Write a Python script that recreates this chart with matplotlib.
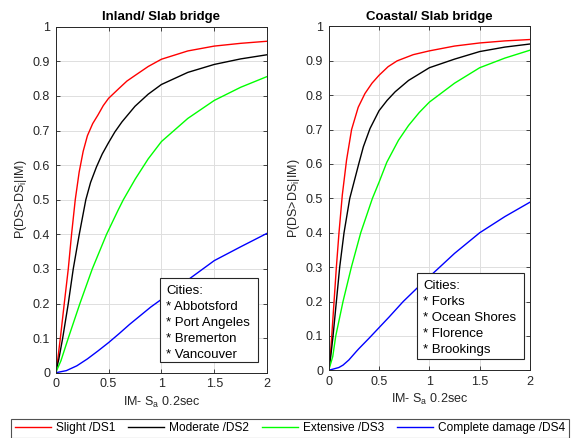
import numpy as np
import matplotlib
matplotlib.use('Agg')
import matplotlib.pyplot as plt
from matplotlib.patches import Rectangle

plt.rcParams['font.family'] = ['Liberation Sans', 'DejaVu Sans']
plt.rcParams['mathtext.fontset'] = 'custom'
plt.rcParams['mathtext.rm'] = 'Liberation Sans'

# ---- data ----
# Inland / Slab bridge
in_ds1_x = [0, 0.02, 0.044, 0.081, 0.119, 0.15, 0.185, 0.222, 0.26, 0.3, 0.35, 0.4, 0.45, 0.5, 0.6, 0.674, 0.75, 0.875, 1.0, 1.25, 1.5, 1.75, 2.0]
in_ds1_y = [0, 0.04, 0.1, 0.2, 0.3, 0.4, 0.5, 0.58, 0.64, 0.685, 0.72, 0.745, 0.772, 0.793, 0.822, 0.843, 0.859, 0.885, 0.906, 0.93, 0.944, 0.952, 0.958]
in_ds2_x = [0, 0.03, 0.066, 0.119, 0.166, 0.223, 0.285, 0.33, 0.386, 0.44, 0.5, 0.56, 0.627, 0.75, 0.875, 1.0, 1.25, 1.5, 1.75, 2.0]
in_ds2_y = [0, 0.04, 0.1, 0.2, 0.3, 0.4, 0.5, 0.55, 0.595, 0.632, 0.665, 0.696, 0.725, 0.77, 0.805, 0.833, 0.868, 0.891, 0.907, 0.919]
in_ds3_x = [0, 0.05, 0.119, 0.229, 0.346, 0.481, 0.589, 0.64, 0.753, 0.875, 1.0, 1.25, 1.5, 1.75, 2.0]
in_ds3_y = [0, 0.035, 0.1, 0.2, 0.3, 0.4, 0.469, 0.5, 0.56, 0.618, 0.668, 0.735, 0.787, 0.825, 0.856]
in_ds4_x = [0, 0.1, 0.2, 0.3, 0.4, 0.5, 0.6, 0.7, 0.8, 0.9, 1.0, 1.236, 1.5, 1.75, 2.0]
in_ds4_y = [0, 0.006, 0.02, 0.04, 0.063, 0.087, 0.113, 0.14, 0.165, 0.19, 0.212, 0.265, 0.324, 0.364, 0.403]

# Coastal / Slab bridge
co_ds1_x = [0, 0.015, 0.03, 0.053, 0.076, 0.102, 0.135, 0.177, 0.227, 0.293, 0.36, 0.43, 0.5, 0.59, 0.68, 0.84, 1.0, 1.25, 1.5, 1.75, 2.0]
co_ds1_y = [0, 0.04, 0.1, 0.2, 0.3, 0.4, 0.51, 0.611, 0.7, 0.765, 0.805, 0.835, 0.858, 0.883, 0.9, 0.918, 0.929, 0.943, 0.952, 0.958, 0.962]
co_ds2_x = [0, 0.02, 0.043, 0.076, 0.109, 0.152, 0.209, 0.298, 0.344, 0.41, 0.5, 0.58, 0.66, 0.793, 1.0, 1.25, 1.5, 1.75, 2.0]
co_ds2_y = [0, 0.04, 0.1, 0.2, 0.3, 0.4, 0.5, 0.6, 0.65, 0.703, 0.755, 0.785, 0.81, 0.843, 0.88, 0.905, 0.927, 0.94, 0.949]
co_ds3_x = [0, 0.04, 0.07, 0.142, 0.225, 0.318, 0.361, 0.434, 0.5, 0.577, 0.693, 0.793, 0.9, 1.0, 1.25, 1.5, 1.75, 2.0]
co_ds3_y = [0, 0.04, 0.1, 0.2, 0.3, 0.4, 0.437, 0.5, 0.547, 0.605, 0.669, 0.712, 0.75, 0.78, 0.835, 0.88, 0.908, 0.931]
co_ds4_x = [0, 0.1, 0.142, 0.2, 0.275, 0.3, 0.4, 0.5, 0.6, 0.74, 0.874, 1.04, 1.25, 1.5, 1.75, 2.0]
co_ds4_y = [0, 0.008, 0.015, 0.03, 0.055, 0.063, 0.093, 0.124, 0.155, 0.2, 0.238, 0.283, 0.34, 0.4, 0.447, 0.489]

ds_labels = ['Slight /DS1', 'Moderate /DS2', 'Extensive /DS3', 'Complete damage /DS4']
ds_colors = ['#ff0000', '#000000', '#00ff00', '#0000ff']
titles = ['Inland/ Slab bridge', 'Coastal/ Slab bridge']
cities_in = ['Cities:', '* Abbotsford', '* Port Angeles', '* Bremerton', '* Vancouver']
cities_co = ['Cities:', '* Forks', '* Ocean Shores', '* Florence', '* Brookings']

panels = [
    ([in_ds1_x, in_ds2_x, in_ds3_x, in_ds4_x], [in_ds1_y, in_ds2_y, in_ds3_y, in_ds4_y]),
    ([co_ds1_x, co_ds2_x, co_ds3_x, co_ds4_x], [co_ds1_y, co_ds2_y, co_ds3_y, co_ds4_y]),
]

fig = plt.figure(figsize=(5.76, 4.38), dpi=100)
ax1 = fig.add_axes([0.0967, 0.149, 0.367, 0.790])
ax2 = fig.add_axes([0.5707, 0.1546, 0.3495, 0.785])
axs = [ax1, ax2]

# box position (axes fraction) and text start for the city notes
boxes = [(0.494, 0.030, 0.957, 0.274, 0.522, 0.237, 0.0462),
         (0.437, 0.032, 0.970, 0.284, 0.470, 0.245, 0.0465)]
cities = [cities_in, cities_co]

tc = '#262626'
handles = []
for k, ax in enumerate(axs):
    xs, ys = panels[k]
    for j in range(4):
        h, = ax.plot(xs[j], ys[j], color=ds_colors[j], lw=1.0, label=ds_labels[j])
        if k == 0:
            handles.append(h)
    ax.set_xlim(0, 2)
    ax.set_ylim(0, 1)
    ax.set_xticks([0, 0.5, 1, 1.5, 2])
    ax.set_xticklabels(['0', '0.5', '1', '1.5', '2'])
    ax.set_yticks(np.arange(0, 1.01, 0.1))
    ax.set_yticklabels(['0', '0.1', '0.2', '0.3', '0.4', '0.5', '0.6', '0.7', '0.8', '0.9', '1'])
    ax.grid(True, color='#dedede', lw=0.7)
    ax.set_axisbelow(True)
    ax.tick_params(direction='in', top=True, right=True, length=3, width=0.6,
                   labelsize=9, colors=tc, pad=4)
    for s in ax.spines.values():
        s.set_color(tc)
        s.set_linewidth(0.7)
    ax.set_title(titles[k], fontsize=9.5, fontweight='bold', pad=5)
    ax.set_xlabel('IM- S$_{\\mathrm{a}}$ 0.2sec', fontsize=9, color=tc, labelpad=3)
    ax.set_ylabel('P(DS>DS$_{\\mathrm{i}}$|IM)', fontsize=9, color=tc, labelpad=3)

    bx0, by0, bx1, by1, tx, ty, dy = boxes[k]
    ax.add_patch(Rectangle((bx0, by0), bx1 - bx0, by1 - by0, transform=ax.transAxes,
                           facecolor='white', edgecolor=tc, lw=0.8, zorder=5))
    for i, line in enumerate(cities[k]):
        ax.text(tx, ty - i * dy, line, transform=ax.transAxes, fontsize=9.5,
                va='center', ha='left', color='black', zorder=6)

leg = fig.legend(handles, ds_labels, loc='center', bbox_to_anchor=(0.5035, 0.022), ncol=4,
                 fontsize=8.6, frameon=True, fancybox=False, edgecolor=tc,
                 handlelength=3.0, handletextpad=0.45, columnspacing=1.05,
                 borderpad=0.3, borderaxespad=0)
leg.get_frame().set_linewidth(0.8)

fig.savefig('out.png', dpi=100)
